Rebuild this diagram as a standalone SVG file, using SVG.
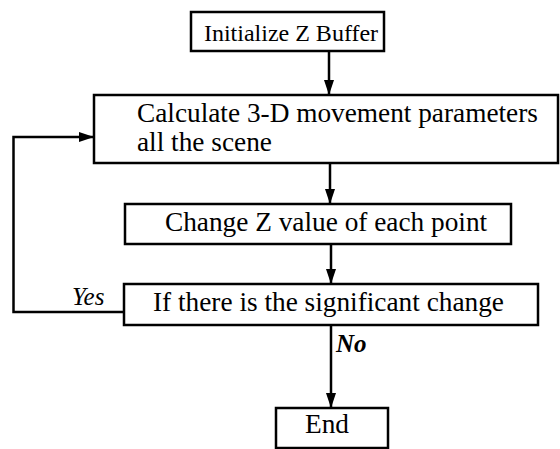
<svg xmlns="http://www.w3.org/2000/svg" width="560" height="449" viewBox="0 0 560 449">
<style>
.box{fill:#fff;stroke:#000;stroke-width:2.5}
.t{font-family:"Liberation Serif","Times New Roman",serif;font-size:27.3px;fill:#000}
.t1{font-family:"Liberation Serif","Times New Roman",serif;font-size:24px;fill:#000}
.c{fill:none;stroke:#000;stroke-width:2.5}
.lab{font-family:"Liberation Serif","Times New Roman",serif;font-size:25px;font-style:italic;fill:#000}
.bold{font-weight:bold}
</style>
<defs>
<marker id="ah" viewBox="0 0 15 10" refX="15" refY="5" markerWidth="15" markerHeight="10" markerUnits="userSpaceOnUse" orient="auto">
<path d="M0,0 L15,5 L0,10 Z" fill="#000"/>
</marker>
</defs>
<rect width="560" height="449" fill="#fff"/>
<g id="connectors">
<line class="c" x1="329" y1="51" x2="329" y2="95" marker-end="url(#ah)"/>
<line class="c" x1="330" y1="163" x2="330" y2="204" marker-end="url(#ah)"/>
<line class="c" x1="331" y1="244" x2="331" y2="284" marker-end="url(#ah)"/>
<line class="c" x1="331" y1="325" x2="331" y2="408" marker-end="url(#ah)"/>
<polyline class="c" points="124,312 13.5,312 13.5,137 94,137" marker-end="url(#ah)"/>
<text class="lab" x="72" y="305">Yes</text>
<text class="lab bold" x="336" y="352">No</text>
</g>
<g id="init">
<rect class="box" x="191" y="12" width="193" height="39"/>
<text class="t1" x="291" y="40.5" text-anchor="middle">Initialize Z Buffer</text>
</g>
<g id="calc">
<rect class="box" x="94" y="95" width="464" height="68"/>
<text class="t" x="137" y="121.5">Calculate 3-D movement parameters</text>
<text class="t" x="137" y="151">all the scene</text>
</g>
<g id="change">
<rect class="box" x="125" y="204" width="386" height="40"/>
<text class="t" x="165" y="231">Change Z value of each point</text>
</g>
<g id="decision">
<rect class="box" x="124" y="284" width="414" height="41"/>
<text class="t" x="153" y="311">If there is the significant change</text>
</g>
<g id="end">
<rect class="box" x="276" y="408" width="112" height="40"/>
<text class="t" x="305" y="433">End</text>
</g>
</svg>
